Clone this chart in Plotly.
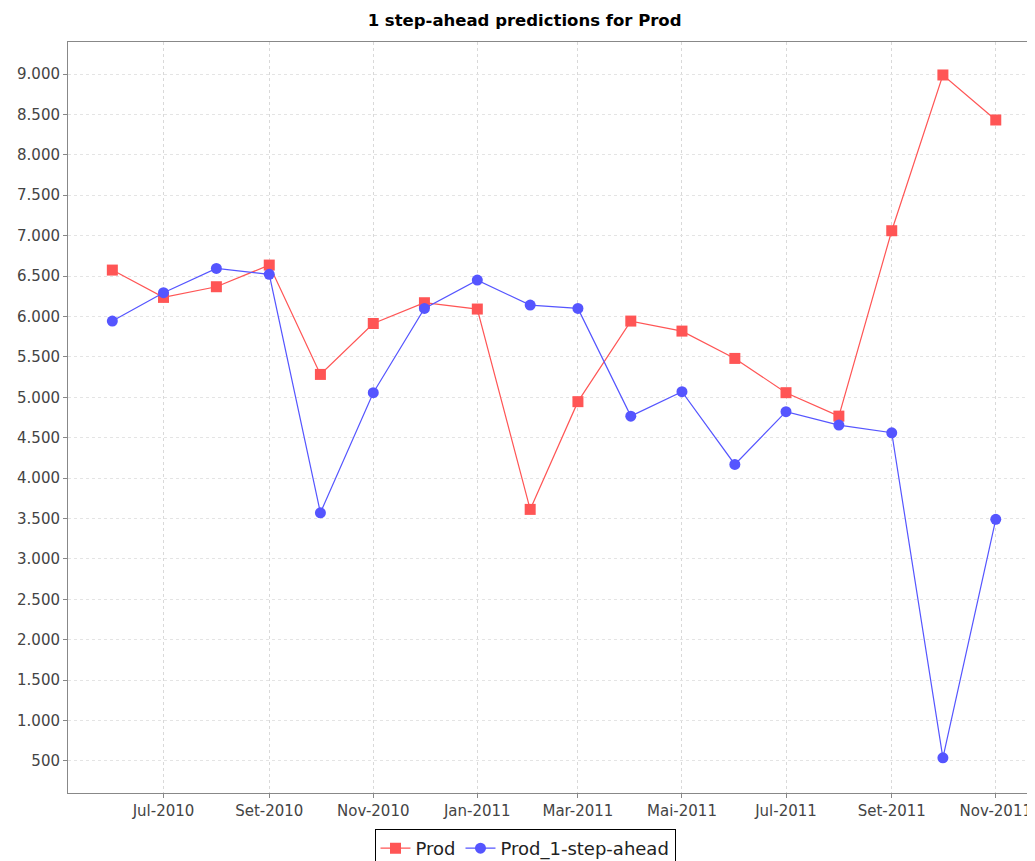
import plotly.graph_objects as go

months = ["2010-06-01", "2010-07-01", "2010-08-01", "2010-09-01", "2010-10-01", "2010-11-01",
          "2010-12-01", "2011-01-01", "2011-02-01", "2011-03-01", "2011-04-01", "2011-05-01",
          "2011-06-01", "2011-07-01", "2011-08-01", "2011-09-01", "2011-10-01", "2011-11-01"]
prod = [6574, 6236, 6368, 6636, 5283, 5913, 6170, 6092, 3613, 4946, 5943, 5819,
        5481, 5057, 4767, 7061, 8988, 8431]
pred = [5943, 6294, 6595, 6521, 3571, 5057, 6100, 6450, 6141, 6100, 4767, 5069,
        4169, 4822, 4656, 4561, 539, 3490]

x_tick_vals = ["2010-07-01", "2010-09-01", "2010-11-01", "2011-01-01", "2011-03-01",
               "2011-05-01", "2011-07-01", "2011-09-01", "2011-11-01"]
x_tick_text = ["Jul-2010", "Set-2010", "Nov-2010", "Jan-2011", "Mar-2011",
               "Mai-2011", "Jul-2011", "Set-2011", "Nov-2011"]
y_tick_vals = list(range(500, 9001, 500))

fig = go.Figure()
fig.add_trace(go.Scatter(
    x=months, y=prod, name="Prod", mode="lines+markers",
    line=dict(color="#FF5555", width=1.2),
    marker=dict(symbol="square", size=11, color="#FF5555"),
))
fig.add_trace(go.Scatter(
    x=months, y=pred, name="Prod_1-step-ahead", mode="lines+markers",
    line=dict(color="#5555FF", width=1.2),
    marker=dict(symbol="circle", size=11, color="#5555FF"),
))

fig.update_layout(
    width=1027, height=853,
    margin=dict(l=60, r=0, t=34, b=68),
    paper_bgcolor="white", plot_bgcolor="white",
    separators=",.",
    font=dict(family="DejaVu Sans", size=15, color="#444444"),
    title=dict(text="<b>1 step-ahead predictions for Prod</b>", x=0.503, xanchor="center",
               y=0.986, yanchor="middle", xref="container",
               font=dict(family="DejaVu Sans", size=16.5, color="black")),
    showlegend=True,
    legend=dict(orientation="h", x=0.4726, xanchor="center",
                y=0.0375, yanchor="top", yref="container",
                bordercolor="black", borderwidth=1, bgcolor="white",
                font=dict(size=18, color="#222222"), itemwidth=30,
                tracegroupgap=0),
    xaxis=dict(type="date", range=["2010-05-06", "2011-11-24"],
               tickmode="array", tickvals=x_tick_vals, ticktext=x_tick_text,
               showgrid=True, gridcolor="#d9d9d9", griddash="dot", gridwidth=1,
               showline=True, linecolor="#888888", linewidth=1, mirror=True,
               ticks="outside", ticklen=4, tickcolor="#888888", zeroline=False),
    yaxis=dict(range=[104, 9396], tickmode="array", tickvals=y_tick_vals,
               tickformat=",d",
               showgrid=True, gridcolor="#e4e4e4", griddash="dot", gridwidth=1,
               showline=True, linecolor="#888888", linewidth=1,
               ticks="outside", ticklen=4, tickcolor="#888888", zeroline=False),
)

fig.write_html("out.html")
